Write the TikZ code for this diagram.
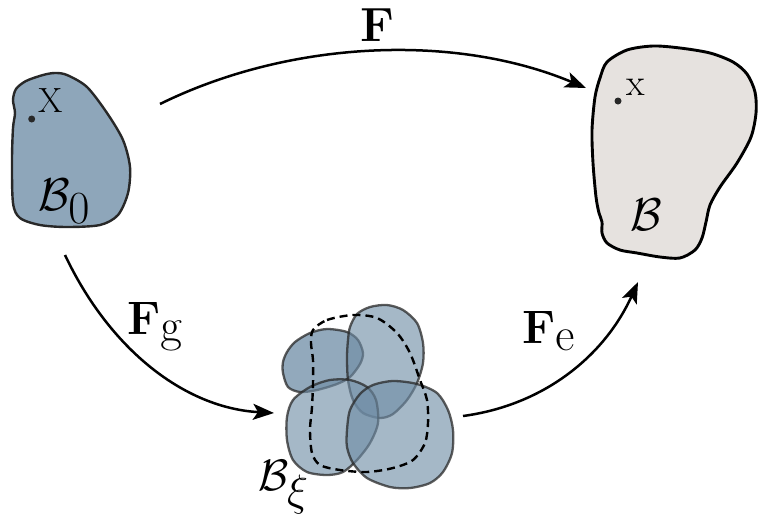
\documentclass[tikz,border=0pt]{standalone}
\usepackage{fix-cm}
\usetikzlibrary{arrows.meta}
\definecolor{bodyblue}{RGB}{142,166,186}
\definecolor{clusterblue}{RGB}{110,140,165}
\definecolor{bodygray}{RGB}{230,226,223}
\definecolor{edgegray}{RGB}{40,40,40}
\tikzset{
  mapping/.style={line width=2.5pt, -{Stealth[length=21pt,width=16pt,inset=5pt]}},
  blobpart/.style={fill=clusterblue, fill opacity=0.62, draw=edgegray, draw opacity=0.75, line width=2.3pt},
  dot/.style={circle, fill=edgegray, inner sep=0pt, minimum size=7pt},
  lbl/.style={inner sep=0pt, anchor=base west},
}
\begin{document}
\begin{tikzpicture}[x=1pt,y=-1pt]
\useasboundingbox (0,0) rectangle (759,520);

% reference body B0
\draw[fill=bodyblue, draw=edgegray, line width=2.4pt] plot[smooth cycle] coordinates {
 (16,89) (26,81) (43,75) (55,73) (67,75) (87,87) (107,113) (123,140) (130,167)
 (128,193) (118,215) (100,225) (67,227) (40,225) (20,218) (13,203) (12,160)
 (13,128) (15,113) (13,100)};
\node[dot] (X) at (31.7,119) {};
\node[lbl] (Xl) at (38,112) {\fontsize{35}{40}\selectfont X};
\node[lbl] (B0) at (38,210) {\fontsize{46}{52}\selectfont$\mathcal{B}_{\textstyle 0}$};

% current body B
\draw[fill=bodygray, draw=black, line width=2.9pt] plot[smooth cycle] coordinates {
 (607,62) (627,50) (653,46) (680,48) (710,53) (733,62) (747,74) (755,92)
 (756,113) (751,137) (737,163) (720,187) (710,205) (706,222) (702,238) (695,250)
 (680,258) (660,257) (637,253) (620,250) (607,243) (602,233) (602,222) (599,213)
 (596,197) (593,163) (592,130) (595,97) (600,78)};
\node[dot] (x) at (618,101) {};
\node[lbl] (xl) at (626,95) {\fontsize{38}{44}\selectfont x};
\node[lbl] (B) at (630,230) {\fontsize{46}{52}\selectfont$\mathcal{B}$};

% intermediate configuration B_xi
\draw[blobpart, fill opacity=0.75] plot[smooth cycle] coordinates {
 (287,352) (295,342) (310,333) (327,329) (347,332) (358,340) (363,353) (360,364)
 (350,377) (337,384) (317,390) (300,392) (288,387) (283,373) (283,362)};
\draw[blobpart] plot[smooth cycle] coordinates {
 (350,327) (357,314) (370,307) (387,305) (403,310) (417,323) (423,343) (423,363)
 (417,383) (407,400) (393,414) (380,418) (363,413) (353,400) (348,380) (347,357) (348,340)};
\draw[blobpart] plot[smooth cycle] coordinates {
 (287,417) (293,400) (310,387) (330,380) (350,380) (367,387) (376,400) (378,423)
 (370,443) (357,460) (343,472) (327,475) (307,472) (293,460) (287,440)};
\draw[blobpart] plot[smooth cycle] coordinates {
 (347,430) (350,410) (360,394) (373,385) (393,381) (417,384) (437,393) (448,410)
 (453,430) (452,453) (443,472) (430,483) (410,488) (390,487) (367,478) (353,463) (347,447)};
\draw[black, line width=2.4pt, dash pattern=on 8pt off 5pt] plot[smooth cycle] coordinates {
 (313,330) (327,320) (353,315) (377,318) (397,333) (410,353) (420,380) (427,400)
 (428,423) (425,443) (413,460) (393,468) (367,472) (340,470) (320,465) (312,453)
 (310,430) (312,407) (313,383) (313,360) (311,343)};
\node[lbl] (Bxi) at (258,490) {\fontsize{44}{50}\selectfont$\mathcal{B}_{\textstyle\xi}$};

% mappings
\coordinate (Fs) at (160,104);
\coordinate (Fe) at (586,88);
\coordinate (Gs) at (65,255);
\coordinate (Ge) at (274,413);
\coordinate (Es) at (463,416);
\coordinate (Ee) at (638,282);
\draw[mapping] (Fs) .. controls (290,40) and (455,33) .. (Fe);
\draw[mapping] (Gs) .. controls (110,350) and (185,408) .. (Ge);
\draw[mapping] (Es) .. controls (545,405) and (605,355) .. (Ee);

\node[inner sep=0pt] (Flbl) at (377,25) {\fontsize{48}{54}\selectfont$\mathbf{F}$};
\node[lbl] (Fglbl) at (127,334) {\fontsize{47}{54}\selectfont$\mathbf{F}_{\textstyle\mathrm{g}}$};
\node[lbl] (Felbl) at (522,343) {\fontsize{47}{54}\selectfont$\mathbf{F}_{\textstyle\mathrm{e}}$};
\end{tikzpicture}
\end{document}
